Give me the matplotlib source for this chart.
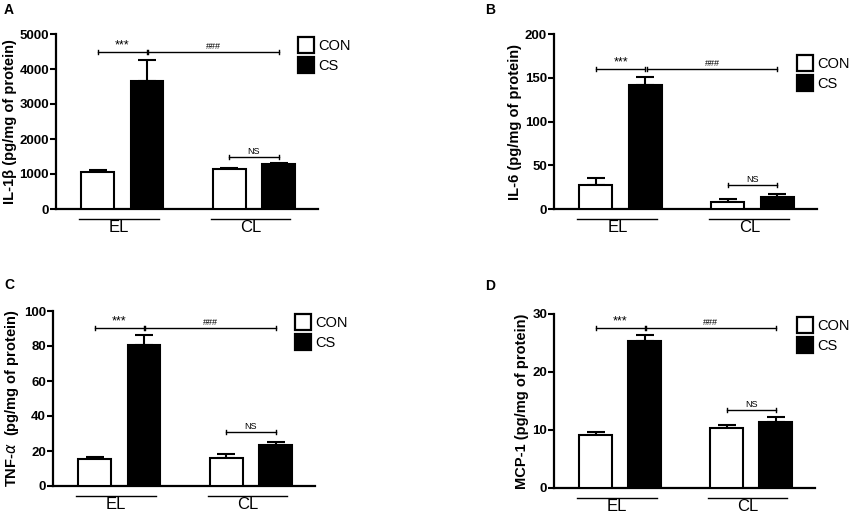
import numpy as np
import matplotlib
matplotlib.use("Agg")
import matplotlib.pyplot as plt
import matplotlib.transforms as mtransforms
from matplotlib.patches import Patch

plt.rcParams['font.family'] = ['Liberation Sans', 'DejaVu Sans']

# data
groups = ['EL', 'CL']
series = ['CON', 'CS']

il1b_con = [1050, 1150]
il1b_con_err = [60, 30]
il1b_cs = [3650, 1285]
il1b_cs_err = [600, 37]

il6_con = [28, 8]
il6_con_err = [8, 3.5]
il6_cs = [142, 14]
il6_cs_err = [9, 3.5]

tnf_con = [15.3, 16]
tnf_con_err = [1, 2.5]
tnf_cs = [80.5, 23.3]
tnf_cs_err = [6, 2]

mcp_con = [9.1, 10.4]
mcp_con_err = [0.5, 0.5]
mcp_cs = [25.4, 11.4]
mcp_cs_err = [1, 0.8]

panels = [
    dict(letter='A', ylabel='IL-1β (pg/mg of protein)', con=il1b_con, con_err=il1b_con_err,
         cs=il1b_cs, cs_err=il1b_cs_err, ymax=5000, step=1000, top_br=4480, ns_br=1480),
    dict(letter='B', ylabel='IL-6 (pg/mg of protein)', con=il6_con, con_err=il6_con_err,
         cs=il6_cs, cs_err=il6_cs_err, ymax=200, step=50, top_br=160, ns_br=27.4),
    dict(letter='C', ylabel=r'TNF-$\alpha$  (pg/mg of protein)', con=tnf_con, con_err=tnf_con_err,
         cs=tnf_cs, cs_err=tnf_cs_err, ymax=100, step=20, top_br=90.2, ns_br=30.8),
    dict(letter='D', ylabel='MCP-1 (pg/mg of protein)', con=mcp_con, con_err=mcp_con_err,
         cs=mcp_cs, cs_err=mcp_cs_err, ymax=30, step=10, top_br=27.6, ns_br=13.5),
]

# pixel boxes of each axes: left, right, top, bottom; legend (x, y top); letter (x, y)
W, H = 851, 516
boxes = [(56, 318, 34, 209), (554, 817, 34, 209), (53, 315, 311, 486), (554, 815, 314, 488)]
legend_pos = [(288, 27), (787, 45), (285, 304), (787, 307)]
letter_pos = [(4, 3), (485, 3), (4, 278), (485, 279)]

fig = plt.figure(figsize=(W / 100, H / 100), dpi=100)

con_x = np.array([0, 4.0])
cs_x = np.array([1.5, 5.5])
bw = 1.0


def bracket(ax, x0, x1, y, label, tick, size):
    ax.plot([x0, x1], [y, y], color='black', lw=1.0, zorder=5)
    for xx in (x0, x1):
        ax.plot([xx, xx], [y - tick, y + tick], color='black', lw=1.0, zorder=5)
    ax.text((x0 + x1) / 2, y + tick * 0.4, label, ha='center', va='bottom', fontsize=size, zorder=6)


for p, (l, r, t, b), (lx, ly), (tx, ty) in zip(panels, boxes, legend_pos, letter_pos):
    ax = fig.add_axes([l / W, 1 - b / H, (r - l) / W, (b - t) / H])
    ax.bar(con_x, p['con'], width=bw, color='white', edgecolor='black', lw=1.5, zorder=3)
    ax.bar(cs_x, p['cs'], width=bw, color='black', edgecolor='black', lw=1.5, zorder=3)
    for xs, vals, errs in ((con_x, p['con'], p['con_err']), (cs_x, p['cs'], p['cs_err'])):
        ax.errorbar(xs, vals, yerr=[np.zeros(len(errs)), errs], fmt='none', ecolor='black',
                    elinewidth=1.5, capsize=6.5, capthick=1.5, zorder=2)

    ax.set_xlim(-1.27, 6.7)
    ax.set_ylim(0, p['ymax'])
    ax.set_yticks(np.arange(0, p['ymax'] + 1e-9, p['step']))
    ax.set_xticks([])
    for s in ('top', 'right'):
        ax.spines[s].set_visible(False)
    for s in ('left', 'bottom'):
        ax.spines[s].set_linewidth(1.6)
    ax.tick_params(axis='y', direction='out', length=4, width=1.5, labelsize=9.5, pad=1)
    for lab in ax.get_yticklabels():
        lab.set_fontweight('bold')
    ax.set_ylabel(p['ylabel'], fontsize=10.5, fontweight='bold', labelpad=2)

    tick = p['ymax'] * 0.012
    bracket(ax, con_x[0], cs_x[0], p['top_br'], '***', tick, 9)
    bracket(ax, cs_x[0] + 0.04, cs_x[1], p['top_br'], '###', tick, 6.5)
    bracket(ax, con_x[1], cs_x[1], p['ns_br'], 'NS', tick, 6.5)

    # group lines and labels under the axis
    trans = mtransforms.blended_transform_factory(ax.transData, ax.transAxes)
    for g, c0, c1 in zip(groups, con_x, cs_x):
        x0, x1 = c0 - 0.56, c1 + 0.36
        ax.plot([x0, x1], [-0.057, -0.057], color='black', lw=1.0, transform=trans, clip_on=False)
        ax.text((x0 + x1) / 2, -0.107, g, ha='center', va='center', fontsize=12, transform=trans)

    handles = [Patch(facecolor='white', edgecolor='black', lw=1.6),
               Patch(facecolor='black', edgecolor='black', lw=1.6)]
    fig.legend(handles, series, loc='upper left', bbox_to_anchor=(lx / W, 1 - ly / H),
               frameon=False, fontsize=10.5, handlelength=1.05, handleheight=1.3,
               handletextpad=0.35, labelspacing=0.3, borderpad=0.2)

    fig.text(tx / W, 1 - ty / H, p['letter'], ha='left', va='top', fontsize=10, fontweight='bold')

fig.savefig('out.png', dpi=100)
